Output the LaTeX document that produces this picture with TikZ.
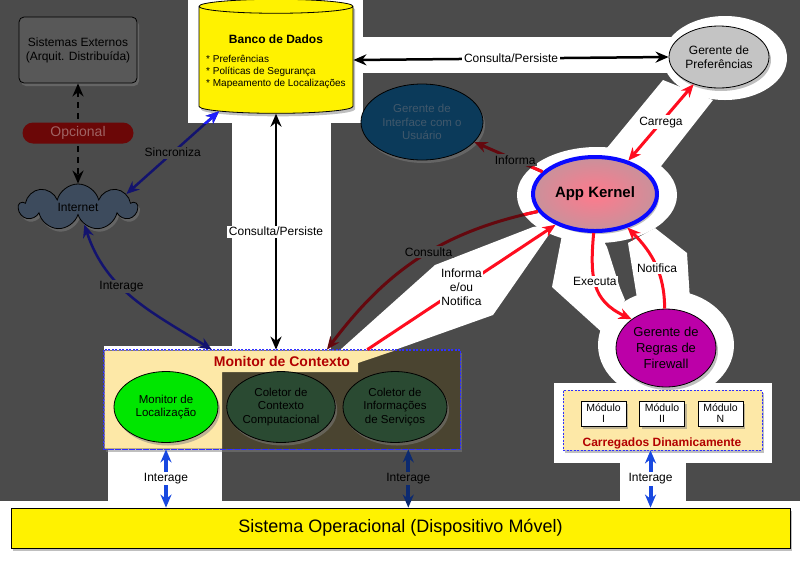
\documentclass[tikz,border=0pt]{standalone}
\usepackage{fontspec}
\setmainfont{Liberation Sans}
\usetikzlibrary{arrows.meta,calc,shapes.geometric,shapes.symbols,shadows}

\definecolor{fondo}{HTML}{4B4B4B}
\definecolor{extgris}{HTML}{585858}
\definecolor{nube}{HTML}{3D4B5D}
\definecolor{opcrojo}{HTML}{6B0707}
\definecolor{opctexto}{HTML}{9E6464}
\definecolor{uiazul}{HTML}{0B3A5A}
\definecolor{uitexto}{HTML}{41586B}
\definecolor{prefgris}{HTML}{C4C4C4}
\definecolor{rosa}{HTML}{FF7A8C}
\definecolor{rosaoscuro}{HTML}{C9919B}
\definecolor{azulborde}{HTML}{0A0AFF}
\definecolor{regrasrosa}{HTML}{BC00A8}
\definecolor{oliva}{HTML}{4A4430}
\definecolor{amarilloclaro}{HTML}{FDE8A7}
\definecolor{verdeloc}{HTML}{00E600}
\definecolor{verdecol}{HTML}{2A4A32}
\definecolor{rojolabel}{HTML}{B20000}
\definecolor{rojo}{HTML}{FF0D1F}
\definecolor{rojooscuro}{HTML}{64080E}
\definecolor{marino}{HTML}{13136E}
\definecolor{azulvivo}{HTML}{1E1EFF}
\definecolor{azulint}{HTML}{1848E0}
\definecolor{marinoint}{HTML}{0C2A70}
\definecolor{azulpunto}{HTML}{3030FF}

\begin{document}
\begin{tikzpicture}[x=1pt, y=1pt,
    >={Stealth[length=13pt, width=11pt]},
    txt/.style={font=\fontsize{11.5}{13.5}\selectfont, align=center},
    etiq/.style={font=\fontsize{12}{14}\selectfont, align=center, text=black, inner sep=1.5pt},
    sombra/.style={drop shadow={shadow xshift=2pt, shadow yshift=-3pt, opacity=0.5}},
    caja/.style={draw=black, line width=0.8pt, sombra},
    elipse/.style={ellipse, caja, inner sep=0pt, txt},
    modulo/.style={caja, rectangle, line width=0.6pt, fill=white, minimum width=45, minimum height=25, inner sep=0pt, font=\fontsize{10.5}{11}\selectfont, align=center},
    punteado/.style={draw=azulpunto, line width=0.8pt, dash pattern=on 2pt off 1.5pt},
    discont/.style={line width=2.5pt, dash pattern=on 6pt off 5pt, <->},
    negra/.style={line width=2.5pt, black, <->},
    roja/.style={line width=3pt, rojo},
    oscura/.style={line width=3pt, rojooscuro},
    marina/.style={line width=2.5pt, marino, <->},
    azul/.style={line width=4pt, azulint, <->}]

  \useasboundingbox (0,0) rectangle (800,-566);

  % Fondo oscuro
  \fill[white] (0,0) rectangle (800,-566);
  \fill[fondo] (0,0) rectangle (800,-501);

  % Zonas resaltadas
  \fill[white] (188,0) rectangle (363,-123);
  \fill[white] (232,-123) rectangle (331,-350);
  \fill[white] (363,-37) rectangle (690,-73);
  \fill[white] (725,-58) ellipse [x radius=62, y radius=42];
  \fill[white] (607,-148) -- (663,-80) -- (713,-100) -- (658,-170) -- cycle;
  \fill[white] (597,-195) ellipse [x radius=80, y radius=48];
  \fill[white] (340,-350) -- (435,-265) -- (533,-227) -- (557,-223) -- (493,-315) -- (358,-363) -- cycle;
  \fill[white] (104,-346) rectangle (232,-352);
  \fill[white] (108,-352) rectangle (222,-501);
  \fill[white] (562,-235) -- (552,-287) -- (605,-335) -- (625,-300) -- (620,-288) -- (607,-247) -- (600,-235) -- cycle;
  \fill[white] (628,-243) -- (637,-298) -- (690,-300) -- (687,-253) -- (655,-228) -- cycle;
  \fill[white] (666,-345) ellipse [x radius=68, y radius=55];
  \fill[white] (554,-383) rectangle (772,-463);
  \fill[white] (620,-463) rectangle (686,-501);

  % Sistemas externos, Opcional e Internet
  \node[caja, rectangle, rounded corners=5pt, fill=extgris, minimum width=118, minimum height=66, txt, font=\fontsize{12}{14}\selectfont] (ext) at (78,-50) {Sistemas Externos\\(Arquit. Distribuída)};
  \node[cloud, cloud puffs=9, aspect=2.8, caja, fill=nube, minimum width=118, minimum height=46, txt, font=\fontsize{12}{14}\selectfont] (net) at (78,-207) {Internet};
  \draw[discont] (ext) -- (net);
  \node[rectangle, rounded corners=10.5pt, fill=opcrojo, text=opctexto, minimum width=111, minimum height=21, inner sep=0pt, font=\fontsize{14}{16}\selectfont] (opc) at (78,-133) {Opcional};

  % Banco de dados
  \node[cylinder, shape border rotate=90, aspect=0.1, caja, fill=yellow, minimum width=154, minimum height=114, align=center, inner sep=0pt] (db) at (276,-60)
    {\mbox{}\\[2pt]{\bfseries\fontsize{12}{14}\selectfont Banco de Dados}\\[10pt]
     {\fontsize{10}{12}\selectfont\begin{tabular}{@{}l@{}}{*} Preferências\\{*} Políticas de Segurança\\{*} Mapeamento de Localizações\end{tabular}}};

  % Gerentes y App Kernel
  \node[elipse, fill=prefgris, minimum width=100, minimum height=62, font=\fontsize{12}{14}\selectfont] (pref) at (719,-57) {Gerente de\\Preferências};
  \node[elipse, fill=uiazul, text=uitexto, minimum width=122, minimum height=76] (ui) at (422,-122) {Gerente de\\Interface com o\\Usuário};
  \node[ellipse, draw=azulborde, line width=4pt, inner color=rosa, outer color=rosaoscuro, sombra, minimum width=124, minimum height=74, font=\bfseries\fontsize{15}{17}\selectfont] (kernel) at (595,-194) {App Kernel};
  \node[elipse, fill=regrasrosa, minimum width=100, minimum height=78, font=\fontsize{13}{16}\selectfont] (regras) at (666,-348) {Gerente de\\Regras de\\Firewall};

  % Monitor de contexto
  \node[rectangle, punteado, fill=oliva, sombra, minimum width=356, minimum height=99] (mon) at (282,-399.5) {};
  \fill[amarilloclaro] (104.5,-350.5) -- (395,-350.5) -- (358,-363) -- (358,-372) -- (222,-372) -- (222,-448.5) -- (104.5,-448.5) -- cycle;
  \draw[punteado] (mon.north west) rectangle (mon.south east);
  \node[font=\bfseries\fontsize{14}{16}\selectfont, text=rojolabel] (monlab) at (282,-361) {Monitor de Contexto};
  \node[elipse, fill=verdeloc, minimum width=104, minimum height=71] (loc) at (166,-407) {Monitor de\\Localização};
  \node[elipse, fill=verdecol, minimum width=104, minimum height=71] (col1) at (281,-407) {Coletor de\\Contexto\\Computacional};
  \node[elipse, fill=verdecol, minimum width=104, minimum height=71] (col2) at (395,-407) {Coletor de\\Informações\\de Serviços};

  % Modulos
  \node[rectangle, punteado, fill=amarilloclaro, sombra, minimum width=199, minimum height=60] (mods) at (662.5,-420) {};
  \node[modulo] (m1) at (603.5,-413.5) {Módulo\\I};
  \node[modulo] (m2) at (662,-413.5) {Módulo\\II};
  \node[modulo] (mN) at (720.5,-413.5) {Módulo\\N};
  \node[font=\bfseries\fontsize{12}{14}\selectfont, text=rojolabel] (carga) at (662,-443) {Carregados Dinamicamente};

  % Sistema operacional
  \node[caja, rectangle, fill=yellow, minimum width=779, minimum height=40, font=\fontsize{18}{20}\selectfont] (so) at (400.5,-528) {Sistema Operacional (Dispositivo Móvel)};

  % Conexiones
  \draw[marina] (net.15) -- node[etiq, fill=fondo] (sinc) {Sincroniza} (db.222);
  \begin{scope}
    \clip (188,0) rectangle (363,-123);
    \draw[marina, azulvivo] (net.15) -- (db.222);
  \end{scope}
  \draw[marina] (net.290) to[out=-72, in=148] node[etiq, fill=fondo, pos=0.4] (int1) {Interage} ($(mon.north west)!0.303!(mon.north east)$);
  \draw[negra] (db.south) -- node[etiq, fill=white] (cp1) {Consulta/Persiste} (db.south |- mon.north);
  \draw[negra] (db.east) -- node[etiq, fill=white] (cp2) {Consulta/Persiste} (pref.west);
  \draw[roja, <->] (kernel.45) -- node[etiq, fill=white] (carr) {Carrega} (pref.227);
  \draw[oscura, ->] (kernel.157) -- node[etiq, fill=fondo, pos=0.4] (inf) {Informa} (ui.339);
  \draw[oscura, ->] (kernel.197) to[out=192, in=53] node[etiq, fill=fondo, pos=0.45] (cons) {Consulta} ($(mon.north west)!0.626!(mon.north east)$);
  \begin{scope}
    \clip (597,-195) ellipse [x radius=80, y radius=48];
    \draw[roja, ->] (kernel.157) -- (ui.339);
    \draw[roja, ->] (kernel.197) to[out=192, in=53] ($(mon.north west)!0.626!(mon.north east)$);
  \end{scope}
  \draw[roja, ->] ($(mon.north west)!0.739!(mon.north east)$) -- node[etiq, fill=white] (ien) {Informa\\e/ou\\Notifica} (kernel.218);
  \draw[roja, ->] (kernel.268) to[out=-95, in=155, looseness=1.2] node[etiq, fill=white, pos=0.45] (exe) {Executa} (regras.140);
  \draw[roja, ->] (regras.92) to[out=90, in=-45] node[etiq, fill=white, pos=0.45] (notif) {Notifica} (kernel.314);

  % Interacciones con el sistema operacional
  \coordinate (m3) at ($(mon.south west)!0.854!(mon.south east)$);
  \coordinate (m4) at ($(mods.south west)!0.44!(mods.south east)$);
  \draw[azul] (loc.south |- mon.south) -- node[etiq, fill=white] (int2) {Interage} (loc.south |- so.north);
  \draw[azul, marinoint] (m3) -- node[etiq, fill=fondo] (int3) {Interage} (m3 |- so.north);
  \draw[azul] (m4) -- node[etiq, fill=white] (int4) {Interage} (m4 |- so.north);
\end{tikzpicture}
\end{document}
